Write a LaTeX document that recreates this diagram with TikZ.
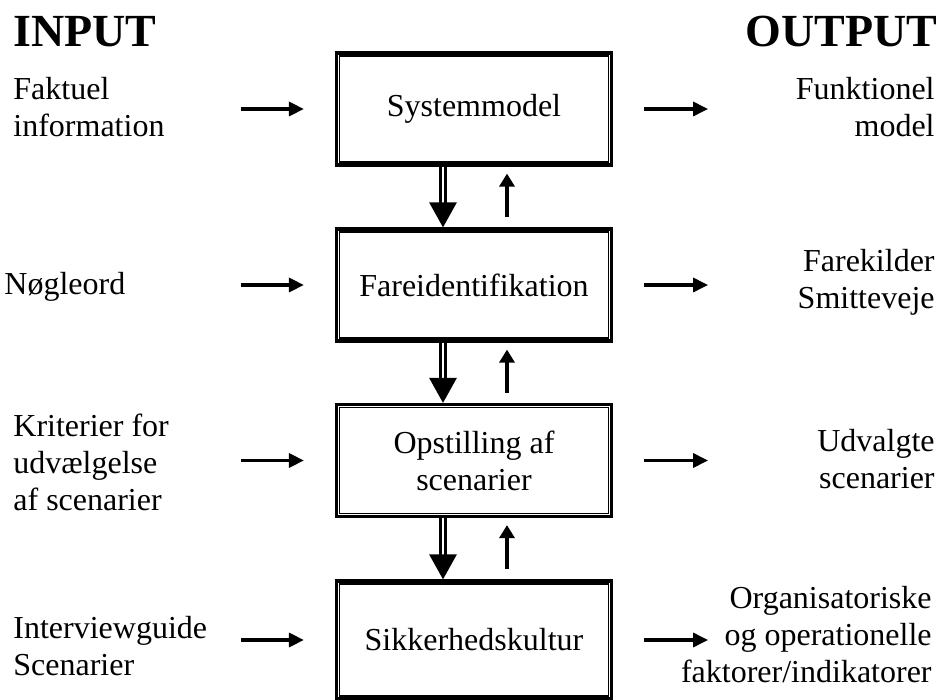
\documentclass[tikz,border=0pt]{standalone}
\usepackage{fontspec}
\setmainfont{Liberation Serif}
\usetikzlibrary{arrows.meta}

\begin{document}
\begin{tikzpicture}[x=0.5pt,y=-0.5pt, % coordonnees en pixels
  boite/.style={draw,line width=1.6pt,minimum width=137.5pt,minimum height=56pt,align=center,font=\fontsize{16}{18.5}\selectfont},
  texte/.style={inner sep=0pt,font=\fontsize{16}{18.5}\selectfont},
  titre/.style={inner sep=0pt,font=\fontsize{23}{27}\selectfont\bfseries},
  fleche/.style={line width=1.6pt,-{Triangle[width=7pt,length=7.5pt]}},
  flechehaut/.style={line width=1.6pt,-{Triangle[width=7.5pt,length=6.5pt]},shorten <=5pt,shorten >=3.5pt},
  flechebas/.style={double,line width=1.5pt,double distance=1.2pt,-{Triangle[width=13.5pt,length=12.5pt]}}]
\useasboundingbox (0,0) rectangle (943,700);
% les etapes
\node[boite] (sys)  at (474,109)   {Systemmodel};
\node[boite] (fare) at (474,285)   {Fareidentifikation};
\node[boite] (opst) at (474,460.5) {Opstilling af\\scenarier};
\node[boite,minimum height=59pt] (sikk) at (474,640) {Sikkerhedskultur};
\foreach \b in {sys,fare,opst,sikk} % le trait fin interieur
  \draw[line width=0.6pt] ([shift={(2.3pt,2.3pt)}]\b.south west) rectangle ([shift={(-2.3pt,-2.3pt)}]\b.north east);
% titres
\node[titre,anchor=base west] (inp) at (13,47)  {INPUT};
\node[titre,anchor=base east] (out) at (938,47) {OUTPUT};
% entrees (base = derniere ligne)
\node[texte,anchor=base west,align=left] (inp1) at (13,137) {Faktuel\\information};
\node[texte,anchor=base west,align=left] (inp2) at (4,295)  {Nøgleord};
\node[texte,anchor=base west,align=left] (inp3) at (13,510) {Kriterier for\\udvælgelse\\af scenarier};
\node[texte,anchor=base west,align=left] (inp4) at (13,675) {Interviewguide\\Scenarier};
% sorties
\node[texte,anchor=base east,align=right] (out1) at (935,137) {Funktionel\\model};
\node[texte,anchor=base east,align=right] (out2) at (935,309) {Farekilder\\Smitteveje};
\node[texte,anchor=base east,align=right] (out3) at (935,488) {Udvalgte\\scenarier};
\node[texte,anchor=base east,align=right] (out4) at (932,682) {Organisatoriske\\og operationelle\\faktorer/indikatorer};
% fleches
\foreach \b in {sys,fare,opst,sikk}{
  \draw[fleche] ([xshift=-47pt]\b.west) -- ([xshift=-15.5pt]\b.west);
  \draw[fleche] ([xshift=15.5pt]\b.east) -- ([xshift=47.5pt]\b.east);
}
\foreach \a/\b in {sys/fare,fare/opst,opst/sikk}{
  \draw[flechebas] ([xshift=-15.5pt]\a.south) -- ([xshift=-15.5pt]\b.north);
  \draw[flechehaut] ([xshift=16.5pt]\b.north) -- ([xshift=16.5pt]\a.south);
}
\end{tikzpicture}
\end{document}
